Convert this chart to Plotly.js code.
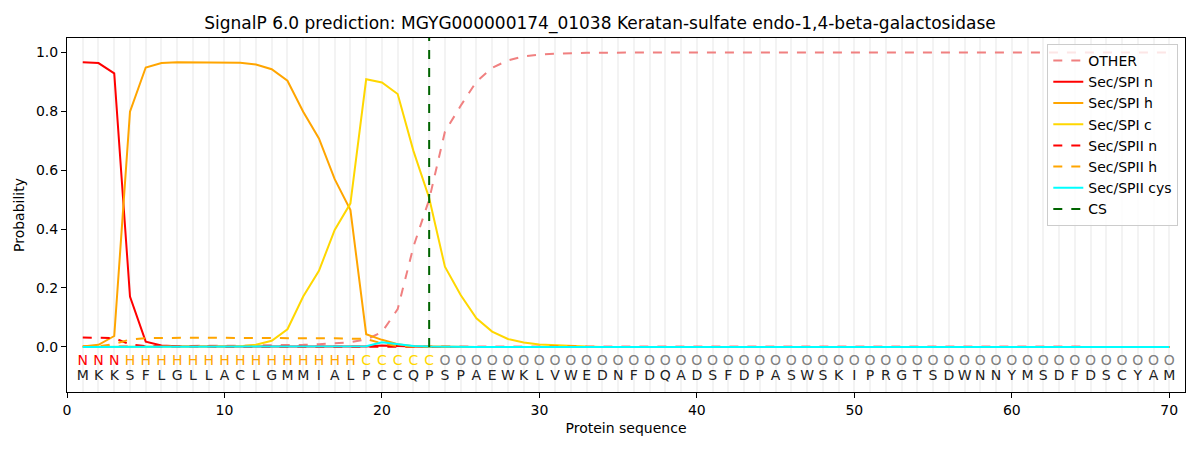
<!DOCTYPE html>
<html>
<head>
<meta charset="utf-8">
<script src="https://cdn.plot.ly/plotly-3.0.1.min.js"></script>
<style>
  body { margin: 0; background: #fff; }
  #chart { width: 1200px; height: 450px; }
</style>
</head>
<body>
<div id="chart"></div>
<script>
// sequence and per-residue labels
let residues = 'MKKSFLGLLACLGMMIALPCCQPSPAEWKLVWEDNFDQADSFDPASWSKIPRGTSDWNNYMSDFDSCYAM'.split('');
let labels = 'NNNHHHHHHHHHHHHHHHCCCCCOOOOOOOOOOOOOOOOOOOOOOOOOOOOOOOOOOOOOOOOOOOOOOO'.split('');
let positions = residues.map((r, i) => i + 1);

// probabilities
let other = [0.002, 0.002, 0.003, 0.003, 0.003, 0.003, 0.003, 0.003, 0.003, 0.004,
             0.004, 0.005, 0.005, 0.006, 0.007, 0.009, 0.012, 0.016, 0.025, 0.05,
             0.128, 0.34, 0.5, 0.73, 0.818, 0.9, 0.947, 0.972, 0.986, 0.992,
             0.995, 0.997, 0.998, 0.998, 0.999, 0.999, 0.999, 0.999, 0.999, 0.999,
             0.999, 0.999, 0.999, 0.999, 0.999, 0.999, 0.999, 0.999, 0.999, 0.999,
             0.999, 0.999, 0.999, 0.999, 0.999, 0.999, 0.999, 0.999, 0.999, 0.999,
             0.999, 0.999, 0.999, 0.999, 0.999, 0.999, 0.999, 0.999, 0.999, 0.999];
let spiN = [0.966, 0.963, 0.928, 0.171, 0.018, 0.005, 0.002, 0.001, 0.001, 0.001,
            0.001, 0.001, 0.001, 0.001, 0.001, 0.001, 0.001, 0.001, 0.001, 0.005,
            0.003, 0.001];
let spiH = [0.001, 0.007, 0.037, 0.798, 0.948, 0.963, 0.966, 0.966, 0.966, 0.966,
            0.964, 0.958, 0.942, 0.903, 0.798, 0.707, 0.569, 0.464, 0.043, 0.024,
            0.009, 0.002, 0.001];
let spiC = [0, 0, 0, 0, 0.001, 0.001, 0.001, 0.001, 0.001, 0.001,
            0.002, 0.007, 0.021, 0.06, 0.171, 0.258, 0.397, 0.487, 0.908, 0.897,
            0.858, 0.665, 0.505, 0.272, 0.176, 0.097, 0.052, 0.027, 0.015, 0.008,
            0.005, 0.002, 0.001];
let spiiN = [0.032, 0.032, 0.03, 0.008, 0.003, 0.001, 0.001];
let spiiH = [0.001, 0.002, 0.01, 0.025, 0.03, 0.031, 0.031, 0.031, 0.031, 0.031,
             0.031, 0.031, 0.031, 0.031, 0.029, 0.029, 0.029, 0.028, 0.027, 0.012,
             0.003, 0.001];
let spiiCys = [0, 0, 0, 0, 0, 0, 0, 0, 0, 0,
               0, 0, 0, 0, 0, 0, 0, 0, 0.002, 0.016,
               0.01, 0.003, 0.001];
let csPos = 23;

let labelColors = {N: '#ff0000', H: '#ffa500', C: '#ffd700', O: '#808080'};

// pad the short series with zeros up to the sequence length
function pad(arr) {
    let out = arr.slice();
    while (out.length < positions.length) out.push(0);
    return out;
}

function line(name, y, color, dash) {
    return {
        type: 'scatter', mode: 'lines', name: name,
        x: positions, y: pad(y),
        line: {color: color, width: 2, dash: dash || 'solid'}
    };
}

let data = [
    line('OTHER', other, '#f08080', 'dash'),
    line('Sec/SPI n', spiN, '#ff0000'),
    line('Sec/SPI h', spiH, '#ffa500'),
    line('Sec/SPI c', spiC, '#ffd700'),
    line('Sec/SPII n', spiiN, '#ff0000', 'dash'),
    line('Sec/SPII h', spiiH, '#ffa500', 'dash'),
    line('Sec/SPII cys', spiiCys, '#00ffff'),
    {
        type: 'scatter', mode: 'lines', name: 'CS',
        x: [csPos, csPos], y: [0, 1.05],
        line: {color: '#006400', width: 2, dash: 'dash'}
    },
    {
        type: 'scatter', mode: 'text', showlegend: false, hoverinfo: 'skip',
        x: positions, y: positions.map(() => -0.05),
        text: labels,
        textfont: {family: 'DejaVu Sans', size: 14, color: labels.map(l => labelColors[l])}
    },
    {
        type: 'scatter', mode: 'text', showlegend: false, hoverinfo: 'skip',
        x: positions, y: positions.map(() => -0.102),
        text: residues,
        textfont: {family: 'DejaVu Sans', size: 14, color: '#222222'}
    }
];

let layout = {
    width: 1200, height: 450,
    margin: {l: 67, r: 15, t: 38, b: 58},
    paper_bgcolor: '#ffffff', plot_bgcolor: '#ffffff',
    font: {family: 'DejaVu Sans', size: 14, color: '#000000'},
    title: {
        text: 'SignalP 6.0 prediction: MGYG000000174_01038 Keratan-sulfate endo-1,4-beta-galactosidase',
        font: {size: 17}, x: 0.5, xanchor: 'center', y: 0.949, yanchor: 'middle'
    },
    xaxis: {
        range: [0, 71], tick0: 0, dtick: 10,
        showgrid: true, gridcolor: '#f3f3f3', gridwidth: 2,
        minor: {dtick: 1, showgrid: true, gridcolor: '#f3f3f3', gridwidth: 2},
        ticks: 'outside', ticklen: 5, tickcolor: '#000',
        showline: true, linecolor: '#000', linewidth: 1, mirror: true,
        zeroline: false,
        title: {text: 'Protein sequence', font: {size: 14}, standoff: 6}
    },
    yaxis: {
        range: [-0.153, 1.048], tickvals: [0, 0.2, 0.4, 0.6, 0.8, 1.0],
        ticktext: ['0.0', '0.2', '0.4', '0.6', '0.8', '1.0'],
        showgrid: false,
        ticks: 'outside', ticklen: 5, tickcolor: '#000',
        showline: true, linecolor: '#000', linewidth: 1, mirror: true,
        zeroline: false,
        title: {text: 'Probability', font: {size: 14}, standoff: 8}
    },
    legend: {
        x: 0.994, y: 0.983, xanchor: 'right', yanchor: 'top',
        bgcolor: 'rgba(255,255,255,0.8)', bordercolor: '#cccccc', borderwidth: 1,
        font: {size: 14}, tracegroupgap: 0
    },
    showlegend: true
};

Plotly.newPlot('chart', data, layout, {staticPlot: true});
</script>
</body>
</html>
